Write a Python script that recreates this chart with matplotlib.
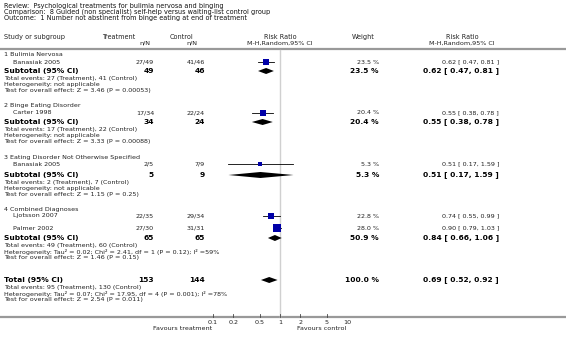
import matplotlib
matplotlib.use('Agg')
import matplotlib.pyplot as plt
import numpy as np

# ---- data ----
review = "Review:  Psychological treatments for bulimia nervosa and binging"
comparison = "Comparison:  8 Guided (non specialist) self-help versus waiting-list control group"
outcome = "Outcome:  1 Number not abstinent from binge eating at end of treatment"

groups = ["1 Bulimia Nervosa", "2 Binge Eating Disorder",
          "3 Eating Disorder Not Otherwise Specified", "4 Combined Diagnoses"]

study_names = ["Banasiak 2005", "Carter 1998", "Banasiak 2005", "Ljotsson 2007", "Palmer 2002"]
study_group = [0, 1, 2, 3, 3]
treat_events = [27, 17, 2, 22, 27]
treat_n = [49, 34, 5, 35, 30]
ctrl_events = [41, 22, 7, 29, 31]
ctrl_n = [46, 24, 9, 34, 31]
study_weight = [23.5, 20.4, 5.3, 22.8, 28.0]
study_rr = [0.62, 0.55, 0.51, 0.74, 0.90]
study_lo = [0.47, 0.38, 0.17, 0.55, 0.79]
study_hi = [0.81, 0.78, 1.59, 0.99, 1.03]

sub_treat_n = [49, 34, 5, 65]
sub_ctrl_n = [46, 24, 9, 65]
sub_treat_events = [27, 17, 2, 49]
sub_ctrl_events = [41, 22, 7, 60]
sub_weight = [23.5, 20.4, 5.3, 50.9]
sub_rr = [0.62, 0.55, 0.51, 0.84]
sub_lo = [0.47, 0.38, 0.17, 0.66]
sub_hi = [0.81, 0.78, 1.59, 1.06]
sub_het = ["not applicable", "not applicable", "not applicable",
           "Tau\u00b2 = 0.02; Chi\u00b2 = 2.41, df = 1 (P = 0.12); I\u00b2 =59%"]
sub_z = ["Z = 3.46 (P = 0.00053)", "Z = 3.33 (P = 0.00088)",
         "Z = 1.15 (P = 0.25)", "Z = 1.46 (P = 0.15)"]

tot_treat_n, tot_ctrl_n = 153, 144
tot_treat_events, tot_ctrl_events = 95, 130
tot_weight = 100.0
tot_rr, tot_lo, tot_hi = 0.69, 0.52, 0.92
tot_het = "Tau\u00b2 = 0.07; Chi\u00b2 = 17.95, df = 4 (P = 0.001); I\u00b2 =78%"
tot_z = "Z = 2.54 (P = 0.011)"

ticks = [0.1, 0.2, 0.5, 1, 2, 5, 10]
tick_labels = ["0.1", "0.2", "0.5", "1", "2", "5", "10"]

# ---- layout (pixel rows, top = 0) ----
W, H = 566, 340
group_y = [55, 106, 157, 210]
study_y = [62, 113, 164, 216, 228]
sub_y = [71, 122, 175, 238]
tot_y = 280
axis_y = 317
LINE = 6.2
X0 = 4        # left margin
XS = 13       # study indent

SMALL = 4.6
BOLD = 5.4
TXT = '#222222'
GREY = '#999999'

fig = plt.figure(figsize=(W / 100, H / 100), dpi=100)
ax = fig.add_axes([0, 0, 1, 1])
ax.set_xlim(0, W)
ax.set_ylim(H, 0)
ax.axis('off')

# forest panel: log scale, 0.1..10 spans px 213..347
fx0, fx1 = 213, 347
fax = fig.add_axes([fx0 / W, 0, (fx1 - fx0) / W, 1])
fax.set_xscale('log')
fax.set_xlim(0.1, 10)
fax.set_ylim(H, 0)
fax.axis('off')
fax.patch.set_alpha(0)


def t(x, y, s, size=SMALL, bold=False, ha='left', color=TXT):
    ax.text(x, y, s, fontsize=size, fontweight='bold' if bold else 'normal',
            ha=ha, va='center', color=color)


# titles
for i, s in enumerate([review, comparison, outcome]):
    t(X0, 6 + i * 6.2, s, size=4.7, color='#111')

# column headers
t(X0, 37, "Study or subgroup", size=4.7)
t(119, 37, "Treatment", size=4.7, ha='center')
t(150, 43, "n/N", ha='right')
t(181, 37, "Control", size=4.7, ha='center')
t(197, 43, "n/N", ha='right')
t(280, 37, "Risk Ratio", size=4.7, ha='center')
t(280, 43, "M-H,Random,95% CI", ha='center')
t(363, 37, "Weight", size=4.7, ha='center')
t(462, 37, "Risk Ratio", size=4.7, ha='center')
t(462, 43, "M-H,Random,95% CI", ha='center')

ax.plot([0, W], [48.5, 48.5], color=GREY, lw=1.6, solid_capstyle='butt')
ax.plot([0, W], [axis_y, axis_y], color=GREY, lw=1.6, solid_capstyle='butt')

fax.plot([1, 1], [49.5, axis_y], color='#d0d0d0', lw=1.0, zorder=1)

# studies
for i, name in enumerate(study_names):
    y = study_y[i]
    t(XS, y, name)
    t(154, y, f"{treat_events[i]}/{treat_n[i]}", ha='right')
    t(205, y, f"{ctrl_events[i]}/{ctrl_n[i]}", ha='right')
    t(379, y, f"{study_weight[i]:.1f} %", ha='right')
    t(499, y, f"{study_rr[i]:.2f} [ {study_lo[i]:.2f}, {study_hi[i]:.2f} ]", ha='right')
    fax.plot([study_lo[i], study_hi[i]], [y, y], color='black', lw=0.6, zorder=2)
    side = 1.4 * np.sqrt(study_weight[i]) * 0.72
    fax.plot(study_rr[i], y, 's', color='#0000a8', markersize=side,
             markeredgewidth=0, zorder=3)


def diamond(rr, lo, hi, y, h=3.0):
    fax.fill([lo, rr, hi, rr], [y, y - h, y, y + h], color='black', lw=0, zorder=3)


def summary(y, label, tn, cn, te, ce, w, rr, lo, hi, het, z):
    t(X0, y, label, size=BOLD, bold=True, color='black')
    t(154, y, str(tn), size=BOLD, bold=True, ha='right', color='black')
    t(205, y, str(cn), size=BOLD, bold=True, ha='right', color='black')
    t(379, y, f"{w:.1f} %", size=BOLD, bold=True, ha='right', color='black')
    t(499, y, f"{rr:.2f} [ {lo:.2f}, {hi:.2f} ]", size=BOLD, bold=True,
      ha='right', color='black')
    t(X0, y + 7.5, f"Total events: {te} (Treatment), {ce} (Control)")
    t(X0, y + 7.5 + LINE, f"Heterogeneity: {het}")
    t(X0, y + 7.5 + 2 * LINE, f"Test for overall effect: {z}")
    diamond(rr, lo, hi, y)


for g, name in enumerate(groups):
    t(X0, group_y[g], name)
    summary(sub_y[g], "Subtotal (95% CI)", sub_treat_n[g], sub_ctrl_n[g],
            sub_treat_events[g], sub_ctrl_events[g], sub_weight[g],
            sub_rr[g], sub_lo[g], sub_hi[g], sub_het[g], sub_z[g])

summary(tot_y, "Total (95% CI)", tot_treat_n, tot_ctrl_n, tot_treat_events,
        tot_ctrl_events, tot_weight, tot_rr, tot_lo, tot_hi, tot_het, tot_z)

# axis ticks
for v, lab in zip(ticks, tick_labels):
    fax.plot([v, v], [axis_y - 3, axis_y], color='#444', lw=0.6, zorder=2)
    fax.text(v, axis_y + 5, lab, fontsize=SMALL, ha='center', va='center', color=TXT)

t(212, 328, "Favours treatment", ha='right')
t(297, 328, "Favours control", ha='left')

fig.savefig('out.png', dpi=100, facecolor='white')
